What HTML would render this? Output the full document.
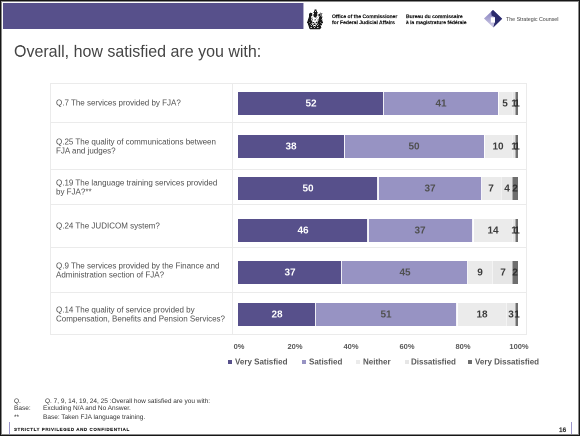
<!DOCTYPE html>
<html><head><meta charset="utf-8">
<style>
*{margin:0;padding:0;box-sizing:border-box}
html,body{width:580px;height:436px;overflow:hidden;background:#fff}
body{position:relative;font-family:"Liberation Sans",sans-serif}
.a{position:absolute}
.t{position:absolute;white-space:nowrap;transform-origin:0 0;will-change:transform}
.frame{position:absolute;left:0;top:0;width:580px;height:436px;box-shadow:inset 0 0 0 1px #161616, inset 0 0 0 2px #8a8a8a;z-index:10;pointer-events:none}
.hl{position:absolute;height:1px;background:#ebebeb}
.vl{position:absolute;width:1px;background:#ebebeb}
.seg{position:absolute;height:23px}
.mk{position:absolute;top:360px;width:4px;height:4px}
</style></head><body>

<div class="a" style="left:3px;top:3px;width:300px;height:26px;background:#57508b"></div>
<div class="a" style="left:303px;top:3px;width:1px;height:26px;background:#57508b;opacity:.45"></div>
<svg class="a" style="left:306px;top:7.6px;filter:blur(0.25px)" width="19" height="22.5" viewBox="0 0 19 21" preserveAspectRatio="none" shape-rendering="crispEdges"><rect x="8" y="1" width="1" height="1" fill="#c8c8c8"/><rect x="9" y="1" width="1" height="1" fill="#777777"/><rect x="10" y="1" width="1" height="1" fill="#c8c8c8"/><rect x="8" y="2" width="1" height="1" fill="#777777"/><rect x="9" y="2" width="1" height="1" fill="#1a1a1a"/><rect x="10" y="2" width="1" height="1" fill="#777777"/><rect x="8" y="3" width="1" height="1" fill="#1a1a1a"/><rect x="9" y="3" width="1" height="1" fill="#c8c8c8"/><rect x="10" y="3" width="1" height="1" fill="#1a1a1a"/><rect x="4" y="4" width="1" height="1" fill="#c8c8c8"/><rect x="7" y="4" width="1" height="1" fill="#777777"/><rect x="8" y="4" width="1" height="1" fill="#1a1a1a"/><rect x="9" y="4" width="1" height="1" fill="#1a1a1a"/><rect x="10" y="4" width="1" height="1" fill="#1a1a1a"/><rect x="11" y="4" width="1" height="1" fill="#777777"/><rect x="14" y="4" width="1" height="1" fill="#c8c8c8"/><rect x="3" y="5" width="1" height="1" fill="#777777"/><rect x="4" y="5" width="1" height="1" fill="#1a1a1a"/><rect x="5" y="5" width="1" height="1" fill="#1a1a1a"/><rect x="6" y="5" width="1" height="1" fill="#c8c8c8"/><rect x="8" y="5" width="1" height="1" fill="#1a1a1a"/><rect x="9" y="5" width="1" height="1" fill="#1a1a1a"/><rect x="10" y="5" width="1" height="1" fill="#1a1a1a"/><rect x="11" y="5" width="1" height="1" fill="#c8c8c8"/><rect x="13" y="5" width="1" height="1" fill="#c8c8c8"/><rect x="14" y="5" width="1" height="1" fill="#777777"/><rect x="15" y="5" width="1" height="1" fill="#777777"/><rect x="16" y="5" width="1" height="1" fill="#c8c8c8"/><rect x="3" y="6" width="1" height="1" fill="#1a1a1a"/><rect x="4" y="6" width="1" height="1" fill="#1a1a1a"/><rect x="5" y="6" width="1" height="1" fill="#1a1a1a"/><rect x="6" y="6" width="1" height="1" fill="#c8c8c8"/><rect x="7" y="6" width="1" height="1" fill="#777777"/><rect x="8" y="6" width="1" height="1" fill="#1a1a1a"/><rect x="9" y="6" width="1" height="1" fill="#1a1a1a"/><rect x="10" y="6" width="1" height="1" fill="#1a1a1a"/><rect x="11" y="6" width="1" height="1" fill="#c8c8c8"/><rect x="12" y="6" width="1" height="1" fill="#777777"/><rect x="13" y="6" width="1" height="1" fill="#1a1a1a"/><rect x="14" y="6" width="1" height="1" fill="#777777"/><rect x="15" y="6" width="1" height="1" fill="#777777"/><rect x="3" y="7" width="1" height="1" fill="#1a1a1a"/><rect x="4" y="7" width="1" height="1" fill="#1a1a1a"/><rect x="5" y="7" width="1" height="1" fill="#c8c8c8"/><rect x="7" y="7" width="1" height="1" fill="#c8c8c8"/><rect x="8" y="7" width="1" height="1" fill="#1a1a1a"/><rect x="9" y="7" width="1" height="1" fill="#1a1a1a"/><rect x="10" y="7" width="1" height="1" fill="#777777"/><rect x="12" y="7" width="1" height="1" fill="#c8c8c8"/><rect x="13" y="7" width="1" height="1" fill="#777777"/><rect x="14" y="7" width="1" height="1" fill="#1a1a1a"/><rect x="15" y="7" width="1" height="1" fill="#777777"/><rect x="16" y="7" width="1" height="1" fill="#c8c8c8"/><rect x="2" y="8" width="1" height="1" fill="#c8c8c8"/><rect x="3" y="8" width="1" height="1" fill="#1a1a1a"/><rect x="4" y="8" width="1" height="1" fill="#1a1a1a"/><rect x="5" y="8" width="1" height="1" fill="#c8c8c8"/><rect x="6" y="8" width="1" height="1" fill="#c8c8c8"/><rect x="8" y="8" width="1" height="1" fill="#c8c8c8"/><rect x="9" y="8" width="1" height="1" fill="#777777"/><rect x="10" y="8" width="1" height="1" fill="#c8c8c8"/><rect x="11" y="8" width="1" height="1" fill="#c8c8c8"/><rect x="13" y="8" width="1" height="1" fill="#1a1a1a"/><rect x="14" y="8" width="1" height="1" fill="#1a1a1a"/><rect x="15" y="8" width="1" height="1" fill="#1a1a1a"/><rect x="16" y="8" width="1" height="1" fill="#c8c8c8"/><rect x="2" y="9" width="1" height="1" fill="#777777"/><rect x="3" y="9" width="1" height="1" fill="#1a1a1a"/><rect x="4" y="9" width="1" height="1" fill="#1a1a1a"/><rect x="5" y="9" width="1" height="1" fill="#777777"/><rect x="6" y="9" width="1" height="1" fill="#c8c8c8"/><rect x="10" y="9" width="1" height="1" fill="#c8c8c8"/><rect x="12" y="9" width="1" height="1" fill="#c8c8c8"/><rect x="13" y="9" width="1" height="1" fill="#1a1a1a"/><rect x="14" y="9" width="1" height="1" fill="#1a1a1a"/><rect x="15" y="9" width="1" height="1" fill="#1a1a1a"/><rect x="2" y="10" width="1" height="1" fill="#1a1a1a"/><rect x="3" y="10" width="1" height="1" fill="#1a1a1a"/><rect x="4" y="10" width="1" height="1" fill="#1a1a1a"/><rect x="5" y="10" width="1" height="1" fill="#c8c8c8"/><rect x="6" y="10" width="1" height="1" fill="#777777"/><rect x="8" y="10" width="1" height="1" fill="#c8c8c8"/><rect x="9" y="10" width="1" height="1" fill="#777777"/><rect x="11" y="10" width="1" height="1" fill="#c8c8c8"/><rect x="12" y="10" width="1" height="1" fill="#777777"/><rect x="13" y="10" width="1" height="1" fill="#1a1a1a"/><rect x="14" y="10" width="1" height="1" fill="#1a1a1a"/><rect x="15" y="10" width="1" height="1" fill="#777777"/><rect x="16" y="10" width="1" height="1" fill="#c8c8c8"/><rect x="1" y="11" width="1" height="1" fill="#c8c8c8"/><rect x="2" y="11" width="1" height="1" fill="#1a1a1a"/><rect x="3" y="11" width="1" height="1" fill="#1a1a1a"/><rect x="4" y="11" width="1" height="1" fill="#1a1a1a"/><rect x="5" y="11" width="1" height="1" fill="#777777"/><rect x="6" y="11" width="1" height="1" fill="#c8c8c8"/><rect x="8" y="11" width="1" height="1" fill="#c8c8c8"/><rect x="9" y="11" width="1" height="1" fill="#c8c8c8"/><rect x="11" y="11" width="1" height="1" fill="#c8c8c8"/><rect x="12" y="11" width="1" height="1" fill="#777777"/><rect x="13" y="11" width="1" height="1" fill="#1a1a1a"/><rect x="14" y="11" width="1" height="1" fill="#1a1a1a"/><rect x="15" y="11" width="1" height="1" fill="#1a1a1a"/><rect x="16" y="11" width="1" height="1" fill="#c8c8c8"/><rect x="1" y="12" width="1" height="1" fill="#777777"/><rect x="2" y="12" width="1" height="1" fill="#1a1a1a"/><rect x="3" y="12" width="1" height="1" fill="#1a1a1a"/><rect x="4" y="12" width="1" height="1" fill="#1a1a1a"/><rect x="5" y="12" width="1" height="1" fill="#1a1a1a"/><rect x="6" y="12" width="1" height="1" fill="#c8c8c8"/><rect x="10" y="12" width="1" height="1" fill="#c8c8c8"/><rect x="11" y="12" width="1" height="1" fill="#c8c8c8"/><rect x="12" y="12" width="1" height="1" fill="#1a1a1a"/><rect x="13" y="12" width="1" height="1" fill="#1a1a1a"/><rect x="14" y="12" width="1" height="1" fill="#1a1a1a"/><rect x="15" y="12" width="1" height="1" fill="#1a1a1a"/><rect x="16" y="12" width="1" height="1" fill="#777777"/><rect x="1" y="13" width="1" height="1" fill="#1a1a1a"/><rect x="2" y="13" width="1" height="1" fill="#1a1a1a"/><rect x="3" y="13" width="1" height="1" fill="#777777"/><rect x="4" y="13" width="1" height="1" fill="#1a1a1a"/><rect x="5" y="13" width="1" height="1" fill="#1a1a1a"/><rect x="6" y="13" width="1" height="1" fill="#777777"/><rect x="7" y="13" width="1" height="1" fill="#1a1a1a"/><rect x="8" y="13" width="1" height="1" fill="#c8c8c8"/><rect x="9" y="13" width="1" height="1" fill="#c8c8c8"/><rect x="10" y="13" width="1" height="1" fill="#1a1a1a"/><rect x="11" y="13" width="1" height="1" fill="#777777"/><rect x="12" y="13" width="1" height="1" fill="#1a1a1a"/><rect x="13" y="13" width="1" height="1" fill="#1a1a1a"/><rect x="14" y="13" width="1" height="1" fill="#777777"/><rect x="15" y="13" width="1" height="1" fill="#1a1a1a"/><rect x="16" y="13" width="1" height="1" fill="#1a1a1a"/><rect x="1" y="14" width="1" height="1" fill="#c8c8c8"/><rect x="2" y="14" width="1" height="1" fill="#1a1a1a"/><rect x="3" y="14" width="1" height="1" fill="#1a1a1a"/><rect x="4" y="14" width="1" height="1" fill="#1a1a1a"/><rect x="5" y="14" width="1" height="1" fill="#777777"/><rect x="6" y="14" width="1" height="1" fill="#c8c8c8"/><rect x="7" y="14" width="1" height="1" fill="#c8c8c8"/><rect x="8" y="14" width="1" height="1" fill="#777777"/><rect x="9" y="14" width="1" height="1" fill="#c8c8c8"/><rect x="10" y="14" width="1" height="1" fill="#c8c8c8"/><rect x="11" y="14" width="1" height="1" fill="#777777"/><rect x="12" y="14" width="1" height="1" fill="#1a1a1a"/><rect x="13" y="14" width="1" height="1" fill="#1a1a1a"/><rect x="14" y="14" width="1" height="1" fill="#1a1a1a"/><rect x="15" y="14" width="1" height="1" fill="#777777"/><rect x="16" y="14" width="1" height="1" fill="#c8c8c8"/><rect x="2" y="15" width="1" height="1" fill="#1a1a1a"/><rect x="3" y="15" width="1" height="1" fill="#1a1a1a"/><rect x="4" y="15" width="1" height="1" fill="#777777"/><rect x="5" y="15" width="1" height="1" fill="#1a1a1a"/><rect x="6" y="15" width="1" height="1" fill="#c8c8c8"/><rect x="7" y="15" width="1" height="1" fill="#777777"/><rect x="8" y="15" width="1" height="1" fill="#1a1a1a"/><rect x="9" y="15" width="1" height="1" fill="#777777"/><rect x="10" y="15" width="1" height="1" fill="#c8c8c8"/><rect x="11" y="15" width="1" height="1" fill="#1a1a1a"/><rect x="12" y="15" width="1" height="1" fill="#777777"/><rect x="13" y="15" width="1" height="1" fill="#1a1a1a"/><rect x="14" y="15" width="1" height="1" fill="#1a1a1a"/><rect x="15" y="15" width="1" height="1" fill="#1a1a1a"/><rect x="2" y="16" width="1" height="1" fill="#777777"/><rect x="3" y="16" width="1" height="1" fill="#1a1a1a"/><rect x="4" y="16" width="1" height="1" fill="#1a1a1a"/><rect x="5" y="16" width="1" height="1" fill="#c8c8c8"/><rect x="6" y="16" width="1" height="1" fill="#1a1a1a"/><rect x="7" y="16" width="1" height="1" fill="#c8c8c8"/><rect x="9" y="16" width="1" height="1" fill="#c8c8c8"/><rect x="10" y="16" width="1" height="1" fill="#1a1a1a"/><rect x="11" y="16" width="1" height="1" fill="#c8c8c8"/><rect x="12" y="16" width="1" height="1" fill="#1a1a1a"/><rect x="13" y="16" width="1" height="1" fill="#1a1a1a"/><rect x="14" y="16" width="1" height="1" fill="#777777"/><rect x="15" y="16" width="1" height="1" fill="#c8c8c8"/><rect x="2" y="17" width="1" height="1" fill="#c8c8c8"/><rect x="3" y="17" width="1" height="1" fill="#1a1a1a"/><rect x="4" y="17" width="1" height="1" fill="#1a1a1a"/><rect x="5" y="17" width="1" height="1" fill="#1a1a1a"/><rect x="6" y="17" width="1" height="1" fill="#1a1a1a"/><rect x="7" y="17" width="1" height="1" fill="#777777"/><rect x="8" y="17" width="1" height="1" fill="#1a1a1a"/><rect x="9" y="17" width="1" height="1" fill="#777777"/><rect x="10" y="17" width="1" height="1" fill="#1a1a1a"/><rect x="11" y="17" width="1" height="1" fill="#1a1a1a"/><rect x="12" y="17" width="1" height="1" fill="#1a1a1a"/><rect x="13" y="17" width="1" height="1" fill="#1a1a1a"/><rect x="14" y="17" width="1" height="1" fill="#1a1a1a"/><rect x="3" y="18" width="1" height="1" fill="#1a1a1a"/><rect x="4" y="18" width="1" height="1" fill="#777777"/><rect x="5" y="18" width="1" height="1" fill="#c8c8c8"/><rect x="6" y="18" width="1" height="1" fill="#1a1a1a"/><rect x="7" y="18" width="1" height="1" fill="#1a1a1a"/><rect x="8" y="18" width="1" height="1" fill="#c8c8c8"/><rect x="9" y="18" width="1" height="1" fill="#1a1a1a"/><rect x="10" y="18" width="1" height="1" fill="#1a1a1a"/><rect x="11" y="18" width="1" height="1" fill="#c8c8c8"/><rect x="12" y="18" width="1" height="1" fill="#777777"/><rect x="13" y="18" width="1" height="1" fill="#1a1a1a"/><rect x="14" y="18" width="1" height="1" fill="#1a1a1a"/><rect x="15" y="18" width="1" height="1" fill="#c8c8c8"/><rect x="3" y="19" width="1" height="1" fill="#777777"/><rect x="4" y="19" width="1" height="1" fill="#1a1a1a"/><rect x="5" y="19" width="1" height="1" fill="#1a1a1a"/><rect x="6" y="19" width="1" height="1" fill="#1a1a1a"/><rect x="7" y="19" width="1" height="1" fill="#1a1a1a"/><rect x="8" y="19" width="1" height="1" fill="#1a1a1a"/><rect x="9" y="19" width="1" height="1" fill="#1a1a1a"/><rect x="10" y="19" width="1" height="1" fill="#1a1a1a"/><rect x="11" y="19" width="1" height="1" fill="#1a1a1a"/><rect x="12" y="19" width="1" height="1" fill="#1a1a1a"/><rect x="13" y="19" width="1" height="1" fill="#1a1a1a"/><rect x="14" y="19" width="1" height="1" fill="#777777"/><rect x="4" y="20" width="1" height="1" fill="#c8c8c8"/><rect x="5" y="20" width="1" height="1" fill="#c8c8c8"/><rect x="6" y="20" width="1" height="1" fill="#c8c8c8"/><rect x="7" y="20" width="1" height="1" fill="#c8c8c8"/><rect x="8" y="20" width="1" height="1" fill="#c8c8c8"/><rect x="9" y="20" width="1" height="1" fill="#c8c8c8"/><rect x="10" y="20" width="1" height="1" fill="#c8c8c8"/><rect x="11" y="20" width="1" height="1" fill="#c8c8c8"/><rect x="12" y="20" width="1" height="1" fill="#c8c8c8"/><rect x="13" y="20" width="1" height="1" fill="#c8c8c8"/></svg>
<div class="t" style="left:332.00px;top:14.35px;font-size:10.000px;line-height:12.000px;transform:scale(0.5000,0.4600);font-weight:bold;color:#111;-webkit-text-stroke:0.25px #111;">Office of the Commissioner</div>
<div class="t" style="left:332.00px;top:19.75px;font-size:10.000px;line-height:12.000px;transform:scale(0.5000,0.4600);font-weight:bold;color:#111;-webkit-text-stroke:0.25px #111;">for Federal Judicial Affairs</div>
<div class="t" style="left:406.20px;top:14.35px;font-size:10.000px;line-height:12.000px;transform:scale(0.5000,0.4600);font-weight:bold;color:#111;-webkit-text-stroke:0.25px #111;">Bureau du commissaire</div>
<div class="t" style="left:406.20px;top:19.75px;font-size:10.000px;line-height:12.000px;transform:scale(0.5000,0.4600);font-weight:bold;color:#111;-webkit-text-stroke:0.25px #111;">à la magistrature fédérale</div>
<svg class="a" style="left:483px;top:9px" width="21" height="20" viewBox="483 9 21 20">
<defs><linearGradient id="lg1" x1="0" y1="0" x2="0" y2="1">
<stop offset="0" stop-color="#7f79bb"/><stop offset="1" stop-color="#d2cfe8"/></linearGradient></defs>
<polygon points="484,18.6 493,10 502.2,18.7 493.3,27.4" fill="url(#lg1)"/>
<polygon points="491.2,11.8 493,10 502.2,18.7 493.3,27.4 494.6,22.6 495,17.3 491.6,15.5" fill="#2b2b6c"/>
<rect x="490.8" y="17.3" width="4.2" height="5.3" fill="#fff"/>
</svg>
<div class="t" style="left:505.50px;top:15.78px;font-size:10.600px;line-height:12.720px;transform:scale(0.5000,0.5000);color:#3c3c3c;">The Strategic Counsel</div>
<div class="t" style="left:13.70px;top:41.30px;font-size:32.000px;line-height:38.400px;transform:scale(0.5000,0.5250);color:#454545;">Overall, how satisfied are you with:</div>
<div class="hl" style="left:50px;top:83px;width:477px"></div>
<div class="hl" style="left:50px;top:122px;width:477px"></div>
<div class="hl" style="left:50px;top:169px;width:477px"></div>
<div class="hl" style="left:50px;top:204px;width:477px"></div>
<div class="hl" style="left:50px;top:247px;width:477px"></div>
<div class="hl" style="left:50px;top:292px;width:477px"></div>
<div class="hl" style="left:50px;top:334px;width:477px"></div>
<div class="vl" style="left:50px;top:83px;height:252px"></div>
<div class="vl" style="left:232px;top:83px;height:252px"></div>
<div class="vl" style="left:526px;top:83px;height:252px"></div>
<div class="t" style="left:56.00px;top:97.83px;font-size:16.000px;line-height:19.200px;transform:scale(0.5000,0.5000);color:#505050;">Q.7 The services provided by FJA?</div>
<div class="seg" style="left:238.00px;top:92px;width:145.60px;background:#57508b"></div>
<div class="seg" style="left:383.60px;top:92px;width:114.80px;background:#9793c3"></div>
<div class="seg" style="left:498.40px;top:92px;width:14.00px;background:#ebebeb"></div>
<div class="seg" style="left:512.40px;top:92px;width:2.80px;background:#e6e6e6"></div>
<div class="seg" style="left:515.20px;top:92px;width:2.80px;background:#6e6e6e"></div>
<div class="a" style="left:382.85px;top:92px;width:1.5px;height:23px;background:#fff;opacity:0.90"></div>
<div class="a" style="left:497.65px;top:92px;width:1.5px;height:23px;background:#fff;opacity:0.90"></div>
<div class="a" style="left:511.90px;top:92px;width:1.0px;height:23px;background:#fff;opacity:0.45"></div>
<div class="a" style="left:514.70px;top:92px;width:1.0px;height:23px;background:#fff;opacity:0.45"></div>
<div class="t" style="left:295.80px;top:97.13px;width:60.00px;text-align:center;font-size:20.000px;line-height:24.000px;transform:scale(0.5000);font-weight:bold;color:#ffffff;">52</div>
<div class="t" style="left:426.00px;top:97.13px;width:60.00px;text-align:center;font-size:20.000px;line-height:24.000px;transform:scale(0.5000);font-weight:bold;color:#505050;">41</div>
<div class="t" style="left:490.40px;top:97.13px;width:60.00px;text-align:center;font-size:20.000px;line-height:24.000px;transform:scale(0.5000);font-weight:bold;color:#3c3c3c;">5</div>
<div class="t" style="left:498.80px;top:97.13px;width:60.00px;text-align:center;font-size:20.000px;line-height:24.000px;transform:scale(0.5000);font-weight:bold;color:#3c3c3c;">1</div>
<div class="t" style="left:501.60px;top:97.13px;width:60.00px;text-align:center;font-size:20.000px;line-height:24.000px;transform:scale(0.5000);font-weight:bold;color:#2e2e2e;">1</div>
<div class="t" style="left:56.00px;top:137.18px;font-size:16.000px;line-height:19.200px;transform:scale(0.5000,0.5000);color:#505050;">Q.25 The quality of communications between</div>
<div class="t" style="left:56.00px;top:145.83px;font-size:16.000px;line-height:19.200px;transform:scale(0.5000,0.5000);color:#505050;">FJA and judges?</div>
<div class="seg" style="left:238.00px;top:135px;width:106.40px;background:#57508b"></div>
<div class="seg" style="left:344.40px;top:135px;width:140.00px;background:#9793c3"></div>
<div class="seg" style="left:484.40px;top:135px;width:28.00px;background:#ebebeb"></div>
<div class="seg" style="left:512.40px;top:135px;width:2.80px;background:#e6e6e6"></div>
<div class="seg" style="left:515.20px;top:135px;width:2.80px;background:#6e6e6e"></div>
<div class="a" style="left:343.65px;top:135px;width:1.5px;height:23px;background:#fff;opacity:0.90"></div>
<div class="a" style="left:483.65px;top:135px;width:1.5px;height:23px;background:#fff;opacity:0.90"></div>
<div class="a" style="left:511.90px;top:135px;width:1.0px;height:23px;background:#fff;opacity:0.45"></div>
<div class="a" style="left:514.70px;top:135px;width:1.0px;height:23px;background:#fff;opacity:0.45"></div>
<div class="t" style="left:276.20px;top:140.13px;width:60.00px;text-align:center;font-size:20.000px;line-height:24.000px;transform:scale(0.5000);font-weight:bold;color:#ffffff;">38</div>
<div class="t" style="left:399.40px;top:140.13px;width:60.00px;text-align:center;font-size:20.000px;line-height:24.000px;transform:scale(0.5000);font-weight:bold;color:#505050;">50</div>
<div class="t" style="left:483.40px;top:140.13px;width:60.00px;text-align:center;font-size:20.000px;line-height:24.000px;transform:scale(0.5000);font-weight:bold;color:#3c3c3c;">10</div>
<div class="t" style="left:498.80px;top:140.13px;width:60.00px;text-align:center;font-size:20.000px;line-height:24.000px;transform:scale(0.5000);font-weight:bold;color:#3c3c3c;">1</div>
<div class="t" style="left:501.60px;top:140.13px;width:60.00px;text-align:center;font-size:20.000px;line-height:24.000px;transform:scale(0.5000);font-weight:bold;color:#2e2e2e;">1</div>
<div class="t" style="left:56.00px;top:178.48px;font-size:16.000px;line-height:19.200px;transform:scale(0.5000,0.5000);color:#505050;">Q.19 The language training services provided</div>
<div class="t" style="left:56.00px;top:187.13px;font-size:16.000px;line-height:19.200px;transform:scale(0.5000,0.5000);color:#505050;">by FJA?**</div>
<div class="seg" style="left:238.00px;top:177px;width:140.00px;background:#57508b"></div>
<div class="seg" style="left:378.00px;top:177px;width:103.60px;background:#9793c3"></div>
<div class="seg" style="left:481.60px;top:177px;width:19.60px;background:#ebebeb"></div>
<div class="seg" style="left:501.20px;top:177px;width:11.20px;background:#e6e6e6"></div>
<div class="seg" style="left:512.40px;top:177px;width:5.60px;background:#6e6e6e"></div>
<div class="a" style="left:377.25px;top:177px;width:1.5px;height:23px;background:#fff;opacity:0.90"></div>
<div class="a" style="left:480.85px;top:177px;width:1.5px;height:23px;background:#fff;opacity:0.90"></div>
<div class="a" style="left:500.70px;top:177px;width:1.0px;height:23px;background:#fff;opacity:0.45"></div>
<div class="a" style="left:511.90px;top:177px;width:1.0px;height:23px;background:#fff;opacity:0.45"></div>
<div class="t" style="left:293.00px;top:182.13px;width:60.00px;text-align:center;font-size:20.000px;line-height:24.000px;transform:scale(0.5000);font-weight:bold;color:#ffffff;">50</div>
<div class="t" style="left:414.80px;top:182.13px;width:60.00px;text-align:center;font-size:20.000px;line-height:24.000px;transform:scale(0.5000);font-weight:bold;color:#505050;">37</div>
<div class="t" style="left:476.40px;top:182.13px;width:60.00px;text-align:center;font-size:20.000px;line-height:24.000px;transform:scale(0.5000);font-weight:bold;color:#3c3c3c;">7</div>
<div class="t" style="left:491.80px;top:182.13px;width:60.00px;text-align:center;font-size:20.000px;line-height:24.000px;transform:scale(0.5000);font-weight:bold;color:#3c3c3c;">4</div>
<div class="t" style="left:500.20px;top:182.13px;width:60.00px;text-align:center;font-size:20.000px;line-height:24.000px;transform:scale(0.5000);font-weight:bold;color:#2e2e2e;">2</div>
<div class="t" style="left:56.00px;top:220.88px;font-size:16.000px;line-height:19.200px;transform:scale(0.5000,0.5000);color:#505050;">Q.24 The JUDICOM system?</div>
<div class="seg" style="left:238.00px;top:219px;width:130.10px;background:#57508b"></div>
<div class="seg" style="left:368.10px;top:219px;width:104.65px;background:#9793c3"></div>
<div class="seg" style="left:472.75px;top:219px;width:39.60px;background:#ebebeb"></div>
<div class="seg" style="left:512.34px;top:219px;width:2.83px;background:#e6e6e6"></div>
<div class="seg" style="left:515.17px;top:219px;width:2.83px;background:#6e6e6e"></div>
<div class="a" style="left:367.35px;top:219px;width:1.5px;height:23px;background:#fff;opacity:0.90"></div>
<div class="a" style="left:472.00px;top:219px;width:1.5px;height:23px;background:#fff;opacity:0.90"></div>
<div class="a" style="left:511.84px;top:219px;width:1.0px;height:23px;background:#fff;opacity:0.45"></div>
<div class="a" style="left:514.67px;top:219px;width:1.0px;height:23px;background:#fff;opacity:0.45"></div>
<div class="t" style="left:288.05px;top:224.13px;width:60.00px;text-align:center;font-size:20.000px;line-height:24.000px;transform:scale(0.5000);font-weight:bold;color:#ffffff;">46</div>
<div class="t" style="left:405.42px;top:224.13px;width:60.00px;text-align:center;font-size:20.000px;line-height:24.000px;transform:scale(0.5000);font-weight:bold;color:#505050;">37</div>
<div class="t" style="left:477.55px;top:224.13px;width:60.00px;text-align:center;font-size:20.000px;line-height:24.000px;transform:scale(0.5000);font-weight:bold;color:#3c3c3c;">14</div>
<div class="t" style="left:498.76px;top:224.13px;width:60.00px;text-align:center;font-size:20.000px;line-height:24.000px;transform:scale(0.5000);font-weight:bold;color:#3c3c3c;">1</div>
<div class="t" style="left:501.59px;top:224.13px;width:60.00px;text-align:center;font-size:20.000px;line-height:24.000px;transform:scale(0.5000);font-weight:bold;color:#2e2e2e;">1</div>
<div class="t" style="left:56.00px;top:261.28px;font-size:16.000px;line-height:19.200px;transform:scale(0.5000,0.5000);color:#505050;">Q.9 The services provided by the Finance and</div>
<div class="t" style="left:56.00px;top:269.93px;font-size:16.000px;line-height:19.200px;transform:scale(0.5000,0.5000);color:#505050;">Administration section of FJA?</div>
<div class="seg" style="left:238.00px;top:261px;width:103.60px;background:#57508b"></div>
<div class="seg" style="left:341.60px;top:261px;width:126.00px;background:#9793c3"></div>
<div class="seg" style="left:467.60px;top:261px;width:25.20px;background:#ebebeb"></div>
<div class="seg" style="left:492.80px;top:261px;width:19.60px;background:#e6e6e6"></div>
<div class="seg" style="left:512.40px;top:261px;width:5.60px;background:#6e6e6e"></div>
<div class="a" style="left:340.85px;top:261px;width:1.5px;height:23px;background:#fff;opacity:0.90"></div>
<div class="a" style="left:466.85px;top:261px;width:1.5px;height:23px;background:#fff;opacity:0.90"></div>
<div class="a" style="left:492.30px;top:261px;width:1.0px;height:23px;background:#fff;opacity:0.45"></div>
<div class="a" style="left:511.90px;top:261px;width:1.0px;height:23px;background:#fff;opacity:0.45"></div>
<div class="t" style="left:274.80px;top:266.14px;width:60.00px;text-align:center;font-size:20.000px;line-height:24.000px;transform:scale(0.5000);font-weight:bold;color:#ffffff;">37</div>
<div class="t" style="left:389.60px;top:266.14px;width:60.00px;text-align:center;font-size:20.000px;line-height:24.000px;transform:scale(0.5000);font-weight:bold;color:#505050;">45</div>
<div class="t" style="left:465.20px;top:266.14px;width:60.00px;text-align:center;font-size:20.000px;line-height:24.000px;transform:scale(0.5000);font-weight:bold;color:#3c3c3c;">9</div>
<div class="t" style="left:487.60px;top:266.14px;width:60.00px;text-align:center;font-size:20.000px;line-height:24.000px;transform:scale(0.5000);font-weight:bold;color:#3c3c3c;">7</div>
<div class="t" style="left:500.20px;top:266.14px;width:60.00px;text-align:center;font-size:20.000px;line-height:24.000px;transform:scale(0.5000);font-weight:bold;color:#2e2e2e;">2</div>
<div class="t" style="left:56.00px;top:304.93px;font-size:16.000px;line-height:19.200px;transform:scale(0.5000,0.5000);color:#505050;">Q.14 The quality of service provided by</div>
<div class="t" style="left:56.00px;top:313.58px;font-size:16.000px;line-height:19.200px;transform:scale(0.5000,0.5000);color:#505050;">Compensation, Benefits and Pension Services?</div>
<div class="seg" style="left:238.00px;top:303px;width:77.62px;background:#57508b"></div>
<div class="seg" style="left:315.62px;top:303px;width:141.39px;background:#9793c3"></div>
<div class="seg" style="left:457.01px;top:303px;width:49.90px;background:#ebebeb"></div>
<div class="seg" style="left:506.91px;top:303px;width:8.32px;background:#e6e6e6"></div>
<div class="seg" style="left:515.23px;top:303px;width:2.77px;background:#6e6e6e"></div>
<div class="a" style="left:314.87px;top:303px;width:1.5px;height:23px;background:#fff;opacity:0.90"></div>
<div class="a" style="left:456.26px;top:303px;width:1.5px;height:23px;background:#fff;opacity:0.90"></div>
<div class="a" style="left:506.41px;top:303px;width:1.0px;height:23px;background:#fff;opacity:0.45"></div>
<div class="a" style="left:514.73px;top:303px;width:1.0px;height:23px;background:#fff;opacity:0.45"></div>
<div class="t" style="left:261.81px;top:308.14px;width:60.00px;text-align:center;font-size:20.000px;line-height:24.000px;transform:scale(0.5000);font-weight:bold;color:#ffffff;">28</div>
<div class="t" style="left:371.32px;top:308.14px;width:60.00px;text-align:center;font-size:20.000px;line-height:24.000px;transform:scale(0.5000);font-weight:bold;color:#505050;">51</div>
<div class="t" style="left:466.96px;top:308.14px;width:60.00px;text-align:center;font-size:20.000px;line-height:24.000px;transform:scale(0.5000);font-weight:bold;color:#3c3c3c;">18</div>
<div class="t" style="left:496.07px;top:308.14px;width:60.00px;text-align:center;font-size:20.000px;line-height:24.000px;transform:scale(0.5000);font-weight:bold;color:#3c3c3c;">3</div>
<div class="t" style="left:501.61px;top:308.14px;width:60.00px;text-align:center;font-size:20.000px;line-height:24.000px;transform:scale(0.5000);font-weight:bold;color:#2e2e2e;">1</div>
<div class="t" style="left:218.70px;top:342.10px;width:80.00px;text-align:center;font-size:15.000px;line-height:18.000px;transform:scale(0.5000);font-weight:bold;color:#595959;">0%</div>
<div class="t" style="left:274.70px;top:342.10px;width:80.00px;text-align:center;font-size:15.000px;line-height:18.000px;transform:scale(0.5000);font-weight:bold;color:#595959;">20%</div>
<div class="t" style="left:330.70px;top:342.10px;width:80.00px;text-align:center;font-size:15.000px;line-height:18.000px;transform:scale(0.5000);font-weight:bold;color:#595959;">40%</div>
<div class="t" style="left:386.70px;top:342.10px;width:80.00px;text-align:center;font-size:15.000px;line-height:18.000px;transform:scale(0.5000);font-weight:bold;color:#595959;">60%</div>
<div class="t" style="left:442.70px;top:342.10px;width:80.00px;text-align:center;font-size:15.000px;line-height:18.000px;transform:scale(0.5000);font-weight:bold;color:#595959;">80%</div>
<div class="t" style="left:498.70px;top:342.10px;width:80.00px;text-align:center;font-size:15.000px;line-height:18.000px;transform:scale(0.5000);font-weight:bold;color:#595959;">100%</div>
<div class="mk" style="left:228.0px;background:#57508b"></div>
<div class="t" style="left:234.70px;top:357.13px;font-size:16.000px;line-height:19.200px;transform:scale(0.5000,0.5000);font-weight:bold;color:#595959;">Very Satisfied</div>
<div class="mk" style="left:302.3px;background:#9793c3"></div>
<div class="t" style="left:309.00px;top:357.13px;font-size:16.000px;line-height:19.200px;transform:scale(0.5000,0.5000);font-weight:bold;color:#595959;">Satisfied</div>
<div class="mk" style="left:356.2px;background:#ebebeb"></div>
<div class="t" style="left:362.90px;top:357.13px;font-size:16.000px;line-height:19.200px;transform:scale(0.5000,0.5000);font-weight:bold;color:#595959;">Neither</div>
<div class="mk" style="left:405.0px;background:#e6e6e6"></div>
<div class="t" style="left:410.90px;top:357.13px;font-size:16.000px;line-height:19.200px;transform:scale(0.5000,0.5000);font-weight:bold;color:#595959;">Dissatisfied</div>
<div class="mk" style="left:468.3px;background:#6e6e6e"></div>
<div class="t" style="left:474.60px;top:357.13px;font-size:16.000px;line-height:19.200px;transform:scale(0.5000,0.5000);font-weight:bold;color:#595959;">Very Dissatisfied</div>
<div class="t" style="left:13.60px;top:397.15px;font-size:13.000px;line-height:15.600px;transform:scale(0.5000,0.5000);color:#333;">Q.</div>
<div class="t" style="left:13.60px;top:404.45px;font-size:13.000px;line-height:15.600px;transform:scale(0.5000,0.5000);color:#333;">Base:</div>
<div class="t" style="left:13.60px;top:413.05px;font-size:13.000px;line-height:15.600px;transform:scale(0.5000,0.5000);color:#333;">**</div>
<div class="t" style="left:44.50px;top:397.15px;font-size:13.000px;line-height:15.600px;transform:scale(0.5000,0.5000);color:#333;">Q. 7, 9, 14, 19, 24, 25 :Overall how satisfied are you with:</div>
<div class="t" style="left:42.80px;top:404.45px;font-size:13.000px;line-height:15.600px;transform:scale(0.5000,0.5000);color:#333;">Excluding N/A and No Answer.</div>
<div class="t" style="left:42.80px;top:412.85px;font-size:13.000px;line-height:15.600px;transform:scale(0.5000,0.5000);color:#333;">Base: Taken FJA language training.</div>
<div class="a" style="left:9px;top:422px;width:1px;height:13px;background:#9d97cc"></div>
<div class="t" style="left:14.00px;top:427.35px;font-size:9.000px;line-height:10.800px;transform:scale(0.5000,0.4750);font-weight:bold;letter-spacing:1.12px;color:#222;-webkit-text-stroke:0.35px #222;">STRICTLY PRIVILEGED AND CONFIDENTIAL</div>
<div class="a" style="left:571px;top:422px;width:1px;height:13px;background:#9d97cc"></div>
<div class="t" style="left:559.40px;top:425.65px;font-size:13.000px;line-height:15.600px;transform:scale(0.5000,0.5000);font-weight:bold;color:#333;-webkit-text-stroke:0.3px #333;">16</div>
<div class="frame"></div>
</body></html>
